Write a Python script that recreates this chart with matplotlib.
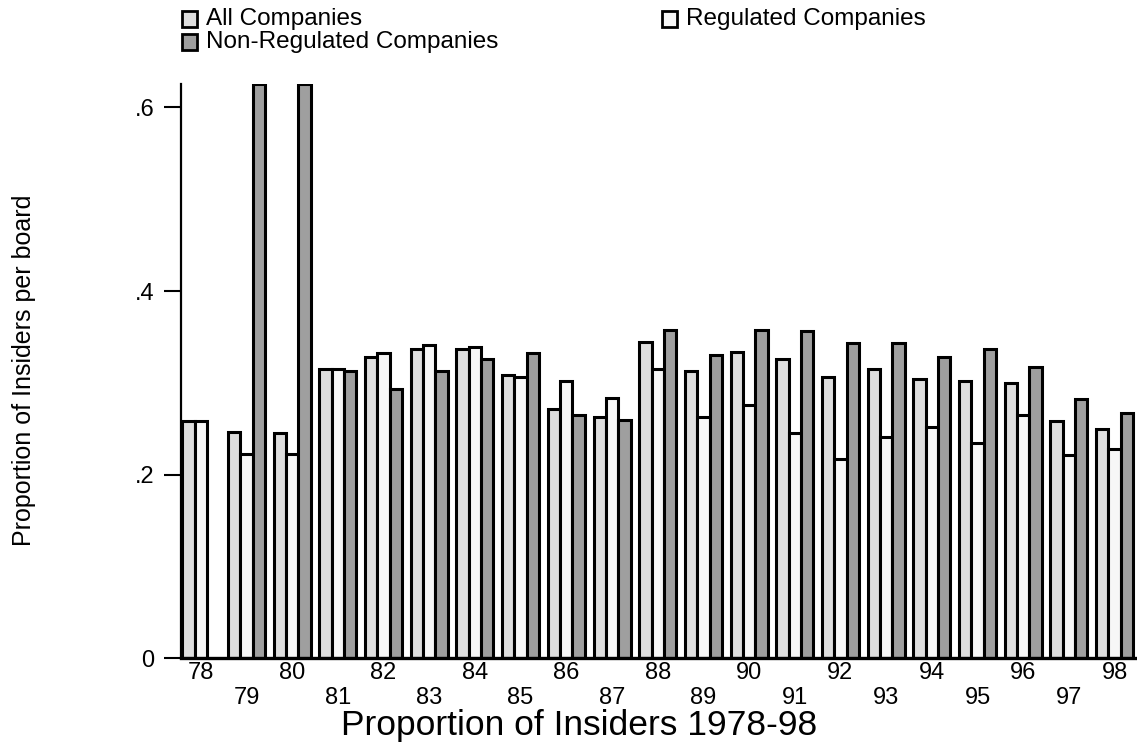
import numpy as np
import matplotlib.pyplot as plt
from matplotlib.patches import Rectangle

plt.rcParams['font.family'] = ['Liberation Sans', 'DejaVu Sans']

years = np.arange(78, 99)
all_cos = [0.258, 0.247, 0.245, 0.315, 0.328, 0.337, 0.337, 0.308, 0.271, 0.263, 0.345,
           0.313, 0.334, 0.326, 0.306, 0.315, 0.304, 0.302, 0.300, 0.258, 0.250]
reg_cos = [0.258, 0.222, 0.222, 0.315, 0.333, 0.341, 0.339, 0.306, 0.302, 0.284, 0.315,
           0.263, 0.276, 0.245, 0.217, 0.241, 0.252, 0.234, 0.265, 0.221, 0.228]
nonreg_cos = [np.nan, 0.626, 0.626, 0.313, 0.293, 0.313, 0.326, 0.333, 0.265, 0.260, 0.358,
              0.330, 0.358, 0.356, 0.343, 0.343, 0.328, 0.337, 0.317, 0.282, 0.267]

labels = ["All Companies", "Regulated Companies", "Non-Regulated Companies"]
colors = ["#dedede", "#f7f7f7", "#9f9f9f"]

fig = plt.figure(figsize=(11.37, 7.51), dpi=100)
ax = fig.add_axes([181/1137, 1 - 658.3/751, 1 - 181/1137, (658.3 - 83.5)/751])

w = 0.27
for k, vals in enumerate([all_cos, reg_cos, nonreg_cos]):
    ax.bar(years + (k - 1)*w, vals, width=w, color=colors[k], edgecolor="black",
           linewidth=2.2, zorder=2)

ax.set_xlim(77.567, 98.49)
ax.set_ylim(0, 0.626)

# y axis
ax.set_yticks([0, 0.2, 0.4, 0.6])
ax.set_yticklabels(["0", ".2", ".4", ".6"])
ax.tick_params(axis="y", length=12, width=1.5, pad=7, labelsize=17)

# x axis: even years on first row, odd years lower
ax.set_xticks(years[::2])
ax.set_xticklabels([str(y) for y in years[::2]])
ax.set_xticks(years[1::2], minor=True)
ax.set_xticklabels([str(y) for y in years[1::2]], minor=True)
ax.tick_params(axis="x", which="major", length=0, pad=3, labelsize=17)
ax.tick_params(axis="x", which="minor", length=0, pad=21, labelsize=17)

for s in ["top", "right"]:
    ax.spines[s].set_visible(False)
ax.spines["left"].set_linewidth(1.6)
ax.spines["bottom"].set_linewidth(2.4)

fig.text(24/1137, 1 - 370/751, "Proportion of Insiders per board", rotation=90,
         ha="center", va="center", fontsize=18)
fig.text(579/1137, 1 - 725/751, "Proportion of Insiders 1978-98", ha="center",
         va="center", fontsize=25.5)

# legend drawn by hand
leg_pos = [(182, 19), (662, 19), (182, 42)]
for (px, py), lab, col in zip(leg_pos, labels, colors):
    fig.add_artist(Rectangle((px/1137, 1 - (py + 7.5)/751), 15/1137, 15/751,
                             transform=fig.transFigure, facecolor=col,
                             edgecolor="black", linewidth=2))
    fig.text((px + 24)/1137, 1 - py/751, lab, ha="left", va="center", fontsize=17.5)

plt.savefig("out.png", dpi=100)
